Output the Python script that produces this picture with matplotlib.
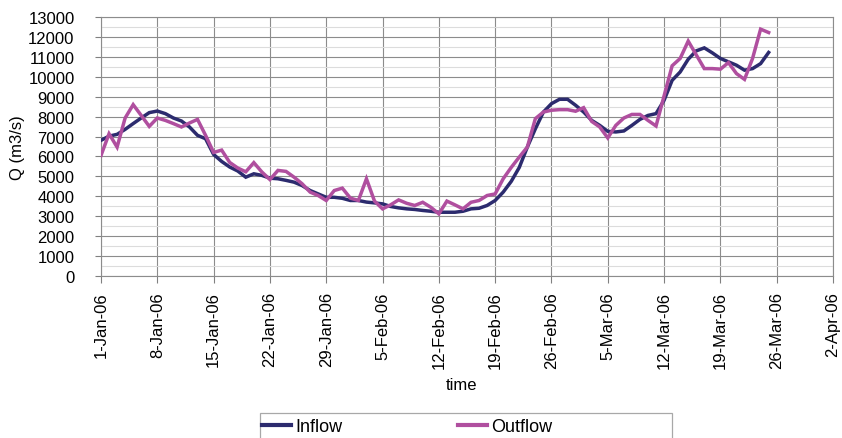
import numpy as np
import pandas as pd
import matplotlib
matplotlib.use('Agg')
import matplotlib.pyplot as plt
from matplotlib.ticker import MultipleLocator
from matplotlib.lines import Line2D
from matplotlib.patches import Rectangle

plt.rcParams['font.family'] = ['Liberation Sans', 'DejaVu Sans']

# daily flows from 1-Jan-06
start = '2006-01-01'
inflow = [6810, 7020, 7110, 7360, 7650, 7930, 8200, 8280, 8150, 7930,
          7780, 7480, 7060, 6890, 6100, 5750, 5470, 5270, 4960, 5130,
          5050, 4910, 4880, 4800, 4710, 4540, 4290, 4120, 3950, 3950,
          3900, 3790, 3790, 3710, 3670, 3620, 3490, 3420, 3370, 3340,
          3290, 3250, 3200, 3200, 3200, 3250, 3370, 3400, 3540, 3790,
          4210, 4750, 5450, 6470, 7390, 8230, 8650, 8870, 8870, 8570,
          8230, 7810, 7560, 7260, 7230, 7280, 7560, 7860, 8060, 8150,
          8820, 9820, 10240, 10880, 11300, 11450, 11200, 10920, 10750, 10580,
          10330, 10410, 10660, 11220]
outflow = [6050, 7140, 6470, 7930, 8600, 8060, 7510, 7930, 7810, 7650,
           7480, 7680, 7860, 7060, 6200, 6320, 5700, 5420, 5230, 5690,
           5220, 4840, 5300, 5250, 4960, 4630, 4210, 4040, 3790, 4290,
           4410, 3910, 3790, 4880, 3760, 3370, 3570, 3820, 3650, 3540,
           3700, 3450, 3120, 3760, 3570, 3370, 3700, 3790, 4040, 4120,
           4880, 5450, 5970, 6470, 7900, 8230, 8320, 8350, 8350, 8270,
           8450, 7760, 7480, 6930, 7560, 7930, 8110, 8110, 7810, 7530,
           9040, 10550, 10920, 11790, 11100, 10410, 10410, 10380, 10710, 10160,
           9870, 10920, 12390, 12220]

dates = pd.date_range(start, periods=len(inflow), freq='D')
tick_dates = pd.date_range('2006-01-01', '2006-04-02', freq='7D')
tick_labels = [f"{d.day}-{d.strftime('%b-%y')}" for d in tick_dates]

fig = plt.figure(figsize=(8.42, 4.39), dpi=100)
ax = fig.add_axes([101 / 842, 1 - 277 / 439, (833 - 101) / 842, (277 - 18) / 439])

c_in = '#2c2b6e'
c_out = '#b04f9f'
ax.plot(dates, inflow, color=c_in, lw=2.5, solid_joinstyle='miter', zorder=3)
ax.plot(dates, outflow, color=c_out, lw=2.5, solid_joinstyle='miter', zorder=4)

ax.set_xlim(tick_dates[0], tick_dates[-1])
ax.set_ylim(0, 13000)
ax.set_xticks(tick_dates)
ax.set_xticklabels(tick_labels, rotation=90, fontsize=12)
ax.yaxis.set_major_locator(MultipleLocator(1000))
ax.yaxis.set_minor_locator(MultipleLocator(500))
ax.tick_params(axis='y', which='major', labelsize=12, length=4, color='#808080', pad=15)
ax.tick_params(axis='y', which='minor', length=0)
ax.tick_params(axis='x', length=5, color='#808080', pad=6)

ax.grid(True, which='major', color='#8c8c8c', lw=0.8)
ax.grid(True, which='minor', axis='y', color='#dcdcdc', lw=0.8)
ax.set_axisbelow(True)
for s in ax.spines.values():
    s.set_color('#8c8c8c')
    s.set_linewidth(0.8)

ax.set_ylabel('Q (m3/s)', fontsize=12)
ax.yaxis.set_label_coords((25 - 101) / 732, 0.5)
fig.text(461 / 842, 1 - 386 / 439, 'time', ha='center', va='center', fontsize=12)

# legend box, cut off by the bottom edge as in the original
fig.patches.append(Rectangle((260 / 842, -0.05), 412 / 842, 0.05 + (439 - 414) / 439,
                             transform=fig.transFigure, fill=False,
                             edgecolor='#a8a8a8', lw=0.9))
handles = [Line2D([], [], color=c_in, lw=3), Line2D([], [], color=c_out, lw=3)]
leg = fig.legend(handles, ['Inflow', 'Outflow'], ncol=2, loc='center left',
                 bbox_to_anchor=(262 / 842, 1 - 428 / 439),
                 fontsize=13, frameon=False, handlelength=1.6, handletextpad=0.25,
                 columnspacing=6.4, borderaxespad=0, borderpad=0)

fig.savefig('out.png', dpi=100)
